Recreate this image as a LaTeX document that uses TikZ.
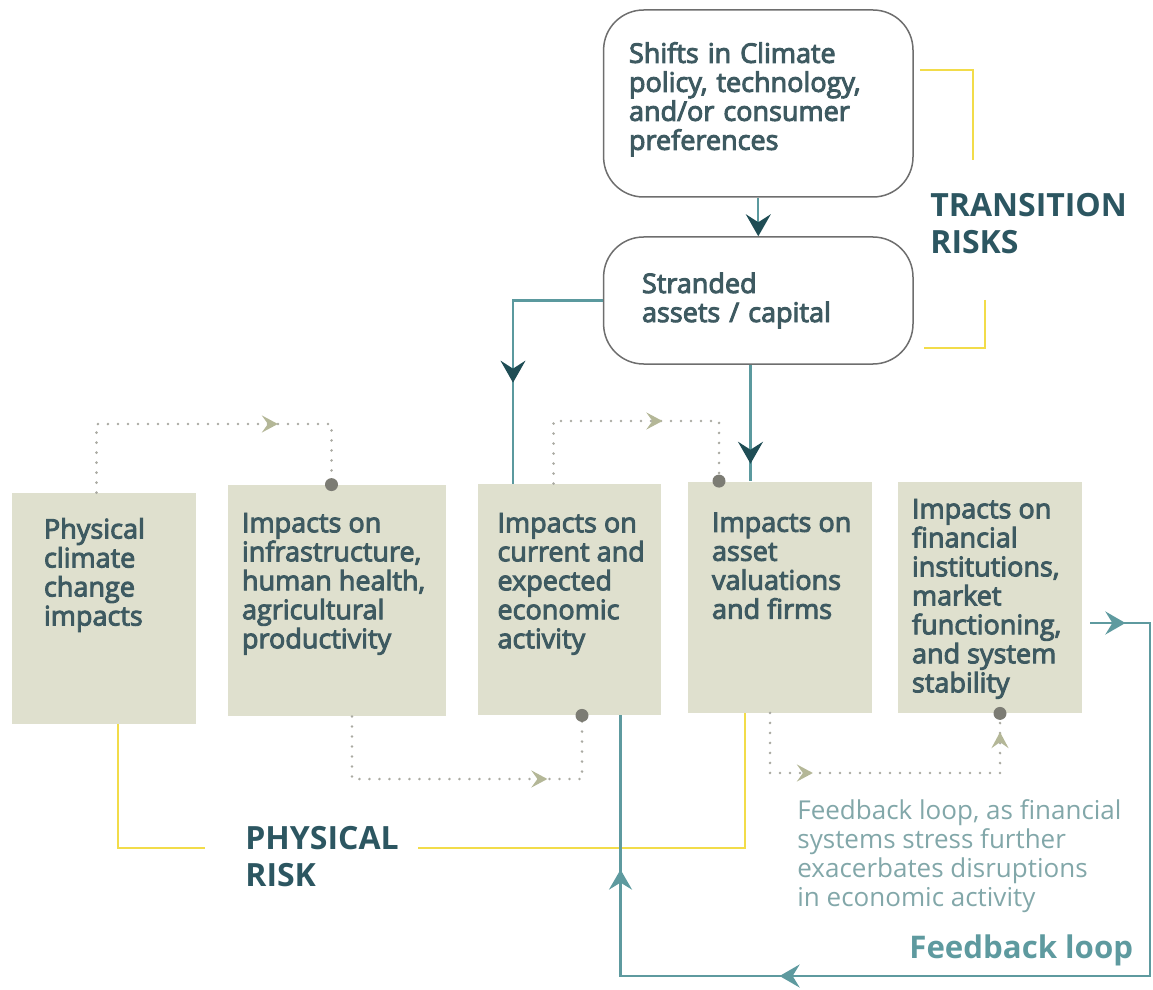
\documentclass[tikz,border=0pt]{standalone}
\usepackage{fontspec}
\setmainfont{Open Sans}
\newfontfamily\semibold{Open Sans}[FakeBold=3.5]
\usetikzlibrary{arrows.meta,decorations.markings}

\definecolor{boxfill}{HTML}{DFE0CE}
\definecolor{boxline}{HTML}{6E6E6E}
\definecolor{textdark}{HTML}{3E5A61}
\definecolor{titleteal}{HTML}{2C5661}
\definecolor{linkteal}{HTML}{5B999E}
\definecolor{headteal}{HTML}{1F4D55}
\definecolor{fbteal}{HTML}{5E9A9F}
\definecolor{notegray}{HTML}{82A7A9}
\definecolor{riskyellow}{HTML}{F2DC4A}
\definecolor{dotgray}{HTML}{AAAAA2}
\definecolor{dothead}{HTML}{B4B797}
\definecolor{dotfill}{HTML}{7C7C74}

\tikzset{
  darkhead/.tip={Stealth[length=11pt,width=12.5pt,inset=4pt,color=headteal]},
  fbhead/.tip={Stealth[length=10pt,width=11.5pt,inset=3.5pt,color=fbteal]},
  smallhead/.tip={Stealth[length=8pt,width=8.5pt,inset=3pt,color=dothead]},
  riskbox/.style={draw=boxline, line width=0.75pt, rounded corners=20pt, fill=white,
    align=left, text=textdark, font=\semibold\fontsize{13.5}{14.5}\selectfont},
  impact/.style={fill=boxfill, inner sep=0pt, minimum height=115.5pt},
  impacttext/.style={anchor=north west, inner sep=0pt, align=left, text=textdark,
    font=\semibold\fontsize{13.5}{14.5}\selectfont},
  riskhead/.style={anchor=north west, inner sep=0pt, align=left, text=titleteal,
    font=\bfseries\fontsize{16}{18.5}\selectfont},
  yellowline/.style={draw=riskyellow, line width=1pt},
  tealline/.style={draw=linkteal, line width=1.1pt},
  fbline/.style={draw=fbteal, line width=1.3pt},
  dotline/.style={draw=dotgray, line width=1.4pt, line cap=round, dash pattern=on 0pt off 5pt},
  dotmark/.style={circle, fill=dotfill, inner sep=0pt, minimum size=6.5pt},
  midtip/.style={postaction={decorate, decoration={markings,
    mark=at position #1 with {\arrow{darkhead}}}}},
  fbtip/.style={postaction={decorate, decoration={markings,
    mark=at position #1 with {\arrow{fbhead}}}}},
  dottip/.style={postaction={decorate, decoration={markings,
    mark=at position #1 with {\arrow{smallhead}}}}},
}

\begin{document}
\begin{tikzpicture}[x=0.5pt,y=-0.5pt]
    \useasboundingbox (0,0) rectangle (1153,990);

    % transition risks
    \node[riskbox, minimum width=154.7pt, minimum height=93.5pt, text width=129.3pt, inner xsep=12.7pt] (shifts) at (758.3,103.5)
        {Shifts in Climate\\policy, technology,\\and/or consumer\\preferences\\[-7pt]\mbox{}};
    \node[riskbox, minimum width=154.7pt, minimum height=63.5pt, text width=116.3pt, inner xsep=19.2pt] (stranded) at (758.3,300.5)
        {Stranded\\assets / capital};
    \node[riskhead] (transrisk) at (930,193) {TRANSITION\\RISKS};
    \draw[yellowline] (920,70) -| (973,160);
    \draw[yellowline] (985,300) |- (924,348);

    % impact boxes
    \node[impact, minimum width=92pt] (phys) at (104,608.5) {};
    \node[impact, minimum width=109pt] (infra) at (337,600.5) {};
    \node[impact, minimum width=91.5pt] (econ) at (569.5,599.5) {};
    \node[impact, minimum width=92pt] (val) at (780,597) {};
    \node[impact, minimum width=92pt] (fin) at (990,597.5) {};
    \node[impacttext] (phys-t) at ([shift={(32,25)}]phys.north west) {Physical\\climate\\change\\impacts};
    \node[impacttext] (infra-t) at ([shift={(14,28)}]infra.north west) {Impacts on\\infrastructure,\\human health,\\agricultural\\productivity};
    \node[impacttext] (econ-t) at ([shift={(19.5,29)}]econ.north west) {Impacts on\\current and\\expected\\economic\\activity};
    \node[impacttext] (val-t) at ([shift={(24,31)}]val.north west) {Impacts on\\asset\\valuations\\and firms};
    \node[impacttext] (fin-t) at ([shift={(14,17)}]fin.north west) {Impacts on\\financial\\institutions,\\market\\functioning,\\and system\\stability};

    % physical risk
    \draw[yellowline] (118,0 |- phys.south) |- (205,848);
    \draw[yellowline] (418,848) -| (745,0 |- val.south);
    \node[riskhead] (physrisk) at (245,826) {PHYSICAL\\RISK};

    % dotted chain
    \draw[dotline, dottip=125pt] (96.5,0 |- phys.north) -- (96.5,424) -| (331.5,0 |- infra.north) node[dotmark] (dot1) {};
    \draw[dotline, dottip=129pt] (352,0 |- infra.south) -- (352,779) -| (582,0 |- econ.south) node[dotmark] (dot2) {};
    \draw[dotline, dottip=85.75pt] (553.5,0 |- econ.north) -- (553.5,421) -| (719,0 |- val.north) node[dotmark] (dot3) {};
    \draw[dotline, dottip=51.5pt, dottip=165.5pt] (770,0 |- val.south) -- (770,773) -| (1000,0 |- fin.south) node[dotmark] (dot4) {};

    % stranded assets links
    \draw[tealline, -darkhead] (shifts.south) -- (stranded.north);
    \draw[tealline, midtip=86pt] (stranded.west) -| (513,0 |- econ.north);
    \draw[tealline, midtip=49.5pt] (750.5,0 |- stranded.south) -- (750.5,0 |- val.north);

    % feedback loop
    \draw[fbline, fbtip=17.5pt, fbtip=391.5pt, fbtip=524.25pt] ([xshift=4pt]fin.east |- 0,623) -- (1150,623) |- (620.5,976) -- (620.5,0 |- econ.south);
    \node[anchor=north west, inner sep=0pt, align=left, text=notegray, font=\fontsize{13}{14.5}\selectfont] (fbnote) at (797,799)
        {Feedback loop, as financial\\systems stress further\\exacerbates disruptions\\in economic activity};
    \node[anchor=base west, inner sep=0pt, text=fbteal, font=\bfseries\fontsize{15.6}{18}\selectfont] (fbtitle) at (909,958) {Feedback loop};
\end{tikzpicture}
\end{document}
